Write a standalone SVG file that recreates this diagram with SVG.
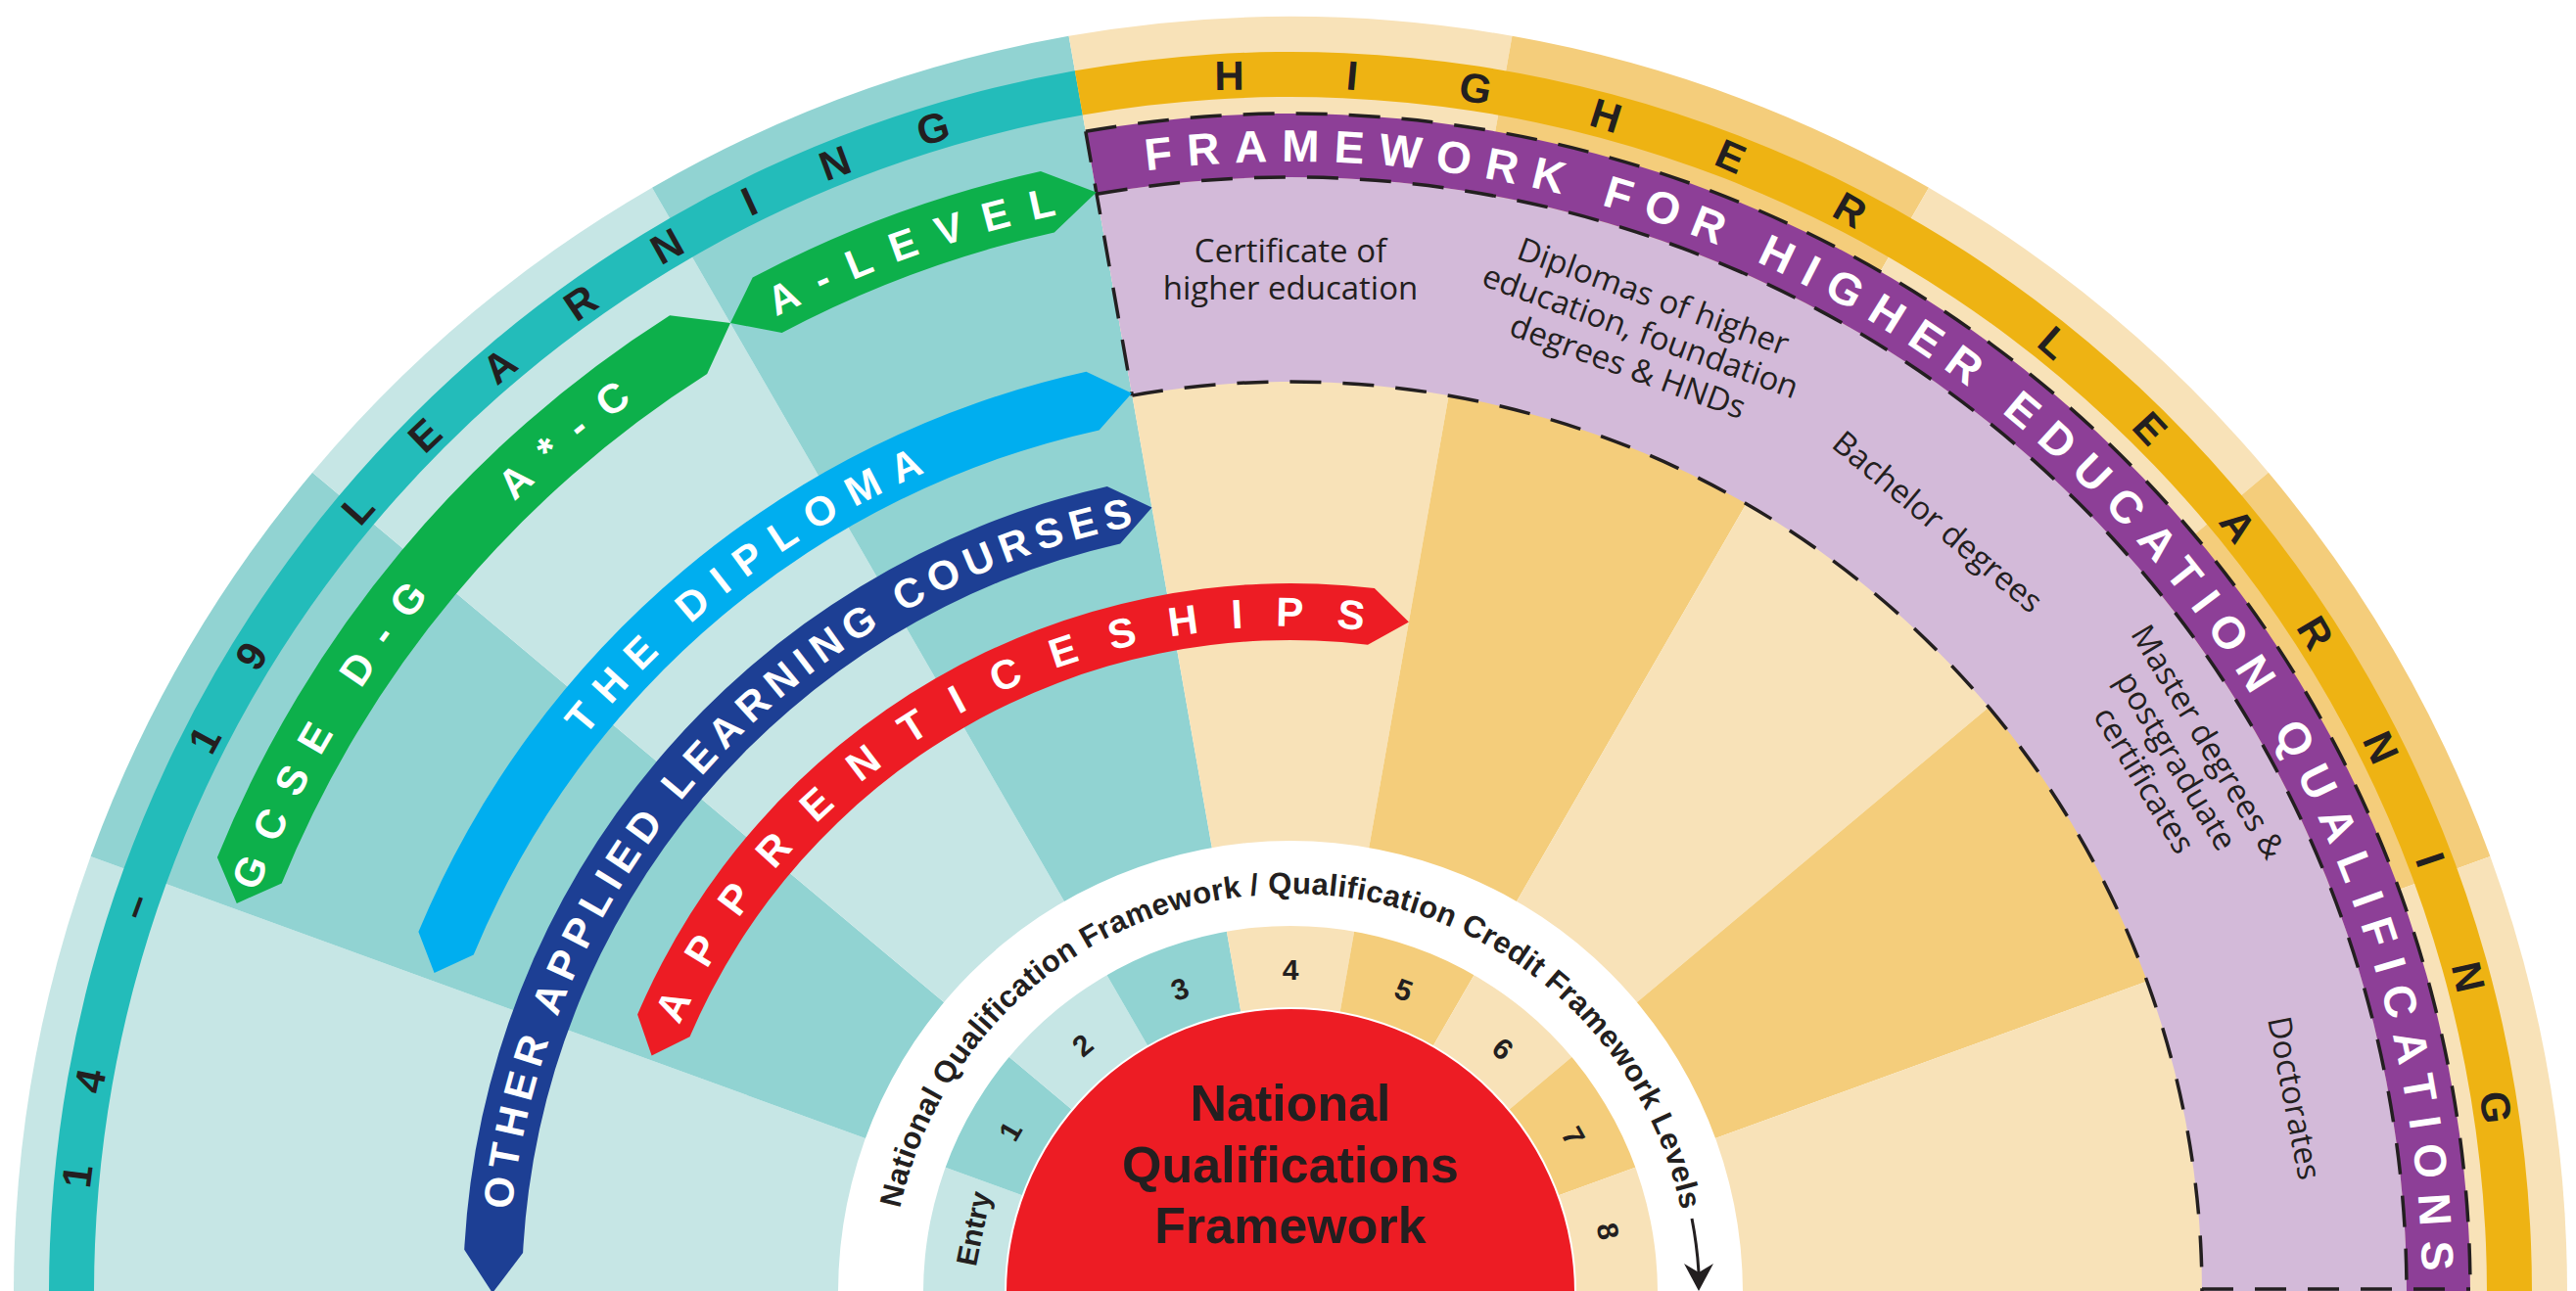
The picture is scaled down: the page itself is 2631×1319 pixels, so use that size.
<svg xmlns="http://www.w3.org/2000/svg" xmlns:xlink="http://www.w3.org/1999/xlink" width="2631" height="1319" viewBox="0 0 2631 1319">
<style>
.pt{fill:#C6E6E5}.mt{fill:#91D3D2}.po{fill:#F8E2B8}.do{fill:#F4CD7B}
.dash{fill:none;stroke:#231F20;stroke-width:3.5;stroke-dasharray:32 22}
.band{font-family:"Liberation Sans",Arial,sans-serif;font-weight:bold;fill:#231F20}
.rib{font-family:"Liberation Sans",Arial,sans-serif;font-weight:bold;fill:#fff;font-size:42px}
.lbl{font-family:"Open Sans","Liberation Sans",sans-serif;font-size:33px;fill:#231F20;text-anchor:middle}
.lvl{font-family:"Liberation Sans",Arial,sans-serif;font-weight:bold;font-size:30px;fill:#231F20;text-anchor:middle}
</style>
<defs>
<path id="a-teal" d="M 88 1321 A 1230 1230 0 0 1 2548 1321"/>
<path id="a-gold" d="M 88 1321 A 1230 1230 0 0 1 2548 1321"/>
<path id="a-purple" d="M 162 1321 A 1156 1156 0 0 1 2474 1321"/>
<path id="a-gcse" d="M 186 1321 A 1132 1132 0 0 1 2450 1321"/>
<path id="a-alevel" d="M 191 1321 A 1127 1127 0 0 1 2445 1321"/>
<path id="a-diploma" d="M 400 1321 A 918 918 0 0 1 2236 1321"/>
<path id="a-other" d="M 518 1321 A 800 800 0 0 1 2118 1321"/>
<path id="a-appr" d="M 637 1321 A 681 681 0 0 1 1999 1321"/>
<path id="a-ring" d="M 910 1321 A 408 408 0 0 1 1726 1321"/>
</defs>
<rect width="2631" height="1319" fill="#fff"/>
<g id="sectors">
<path class="pt" d="M1318 1321 L14 1321 A1304 1304 0 0 1 92.6 875 Z"/>
<path class="mt" d="M1318 1321 L92.6 875 A1304 1304 0 0 1 319.1 482.8 Z"/>
<path class="pt" d="M1318 1321 L319.1 482.8 A1304 1304 0 0 1 666 191.7 Z"/>
<path class="mt" d="M1318 1321 L666 191.7 A1304 1304 0 0 1 1091.6 36.8 Z"/>
<path class="po" d="M1318 1321 L1091.6 36.8 A1304 1304 0 0 1 1544.4 36.8 Z"/>
<path class="do" d="M1318 1321 L1544.4 36.8 A1304 1304 0 0 1 1970 191.7 Z"/>
<path class="po" d="M1318 1321 L1970 191.7 A1304 1304 0 0 1 2316.9 482.8 Z"/>
<path class="do" d="M1318 1321 L2316.9 482.8 A1304 1304 0 0 1 2543.4 875 Z"/>
<path class="po" d="M1318 1321 L2543.4 875 A1304 1304 0 0 1 2622 1321 Z"/>
</g>
<g id="band-14-19">
<path fill="#23BCBA" d="M 50 1321 A 1268 1268 0 0 1 1097.8 72.3 L 1105.8 117.6 A 1222 1222 0 0 0 96 1321 Z"/>
<text class="band" font-size="42" letter-spacing="73.6"><textPath xlink:href="#a-teal" startOffset="106">14 – 19 LEARNING</textPath></text>
</g>
<g id="band-higher">
<path fill="#EEB313" d="M 1097.8 72.3 A 1268 1268 0 0 1 2586 1321 L 2540 1321 A 1222 1222 0 0 0 1105.8 117.6 Z"/>
<text class="band" font-size="42" letter-spacing="103"><textPath xlink:href="#a-gold" startOffset="1854">HIGHER LEARNING</textPath></text>
</g>
<g id="fheq">
<path fill="#D3BAD9" d="M 1120 198.3 A 1140 1140 0 0 1 2458 1321 L 2249 1321 A 931 931 0 0 0 1156.3 404.1 Z"/>
<path fill="#8D3F97" d="M 1108.8 134.3 A 1205 1205 0 0 1 2523 1321 L 2458 1321 A 1140 1140 0 0 0 1120 198.3 Z"/>
<path class="dash" d="M 1108.8 134.3 A 1205 1205 0 0 1 2523 1321"/>
<path class="dash" d="M 1120 198.3 A 1140 1140 0 0 1 2458 1321"/>
<path class="dash" d="M 1156.3 404.1 A 931 931 0 0 1 2249 1321"/>
<path class="dash" d="M 1108.8 134.3 L 1156.3 404.1"/>
<path class="dash" d="M 2249 1317 L 2523 1317"/>
<text class="rib" style="font-size:46px" letter-spacing="14.7"><textPath xlink:href="#a-purple" startOffset="1668">FRAMEWORK FOR HIGHER EDUCATION QUALIFICATIONS</textPath></text>
</g>
<g id="lbl-cert">
<text class="lbl" x="1318" y="268">Certificate of</text>
<text class="lbl" x="1318" y="306">higher education</text>
</g>
<g id="lbl-diplomas" transform="rotate(20 1318 1321)">
<text class="lbl" x="1318" y="249">Diplomas of higher</text>
<text class="lbl" x="1318" y="287">education, foundation</text>
<text class="lbl" x="1318" y="325">degrees &amp; HNDs</text>
</g>
<g id="lbl-bachelor" transform="rotate(40 1318 1321)">
<text class="lbl" x="1318" y="304">Bachelor degrees</text>
</g>
<g id="lbl-master" transform="rotate(59 1318 1321)">
<text class="lbl" x="1318" y="239">Master degrees &amp;</text>
<text class="lbl" x="1318" y="277">postgraduate</text>
<text class="lbl" x="1318" y="315">certificates</text>
</g>
<g id="lbl-doctorates" transform="rotate(79 1318 1321)">
<text class="lbl" x="1318" y="288">Doctorates</text>
</g>
<g id="rib-gcse">
<path fill="#0DB04B" d="M 221.9 875.9 A 1183 1183 0 0 1 684.1 322.2 L 746 330 L 722.2 382.1 A 1112 1112 0 0 0 287.7 902.6 L 241.8 922.9 Z"/>
<text class="rib" letter-spacing="20.5"><textPath xlink:href="#a-gcse" startOffset="419">GCSE D-G</textPath></text>
<text class="rib" letter-spacing="22.5"><textPath xlink:href="#a-gcse" startOffset="900">A*-C</textPath></text>
</g>
<g id="rib-alevel">
<path fill="#0DB04B" d="M 768.7 283.5 A 1174 1174 0 0 1 1062.9 175.1 L 1119.7 196.4 L 1076.8 237.5 A 1110 1110 0 0 0 798.6 340 L 746 330 Z"/>
<text class="rib" letter-spacing="21"><textPath xlink:href="#a-alevel" startOffset="1224">A-LEVEL</textPath></text>
</g>
<g id="rib-diploma">
<path fill="#00AEEF" d="M 427.4 952.1 A 964 964 0 0 1 1109.4 379.8 L 1155.9 401.7 L 1122.6 439.4 A 903 903 0 0 0 483.7 975.4 L 443.6 994.1 Z"/>
<text class="rib" letter-spacing="15.5"><textPath xlink:href="#a-diploma" startOffset="613">THE DIPLOMA</textPath></text>
</g>
<g id="rib-other">
<path fill="#1D3F94" d="M 474.2 1276.8 A 845 845 0 0 1 1130.8 497 L 1176.5 518.4 L 1144.1 555.5 A 785 785 0 0 0 534.1 1279.9 L 503 1321 Z"/>
<text class="rib" letter-spacing="7.6"><textPath xlink:href="#a-other" startOffset="85">OTHER APPLIED LEARNING COURSES</textPath></text>
</g>
<g id="rib-appr">
<path fill="#ED1C24" d="M 651.1 1036.6 A 725 725 0 0 1 1403.8 601.1 L 1438.9 635.6 L 1397 658.7 A 667 667 0 0 0 704.5 1059.3 L 665.6 1078.4 Z"/>
<text class="rib" letter-spacing="33.3"><textPath xlink:href="#a-appr" startOffset="281">APPRENTICESHIPS</textPath></text>
</g>
<g id="nqf-ring">
<path fill="#fff" d="M 856 1321 A 462 462 0 0 1 1780 1321 L 1693 1321 A 375 375 0 0 0 943 1321 Z"/>
<text class="band" font-size="31" letter-spacing="0.35"><textPath xlink:href="#a-ring" startOffset="87">National Qualification Framework / Qualification Credit Framework Levels</textPath></text>
</g>
<g id="levels">
<text class="lvl" x="1318" y="1001" transform="rotate(-78.5 1318 1321)">Entry</text>
<text class="lvl" x="1318" y="1001" transform="rotate(-60 1318 1321)">1</text>
<text class="lvl" x="1318" y="1001" transform="rotate(-40 1318 1321)">2</text>
<text class="lvl" x="1318" y="1001" transform="rotate(-20 1318 1321)">3</text>
<text class="lvl" x="1318" y="1001">4</text>
<text class="lvl" x="1318" y="1001" transform="rotate(20.5 1318 1321)">5</text>
<text class="lvl" x="1318" y="1001" transform="rotate(41 1318 1321)">6</text>
<text class="lvl" x="1318" y="1001" transform="rotate(61 1318 1321)">7</text>
<text class="lvl" x="1318" y="1001" transform="rotate(79 1318 1321)">8</text>
</g>
<g id="nqf-center">
<path fill="#ED1C24" stroke="#fff" stroke-width="2" d="M 1027 1321 A 291 291 0 0 1 1609 1321 Z"/>
<text class="band" font-size="52" text-anchor="middle" x="1318" y="1145">National</text>
<text class="band" font-size="52" text-anchor="middle" x="1318" y="1208">Qualifications</text>
<text class="band" font-size="52" text-anchor="middle" x="1318" y="1270">Framework</text>
</g>
<g id="connectors">
<path d="M 1728 1245 A 417 417 0 0 1 1735 1300" fill="none" stroke="#231F20" stroke-width="3"/>
<path d="M 1735 1319 L 1720 1291 L 1735 1300 L 1750 1291 Z" fill="#231F20"/>
</g>
</svg>
